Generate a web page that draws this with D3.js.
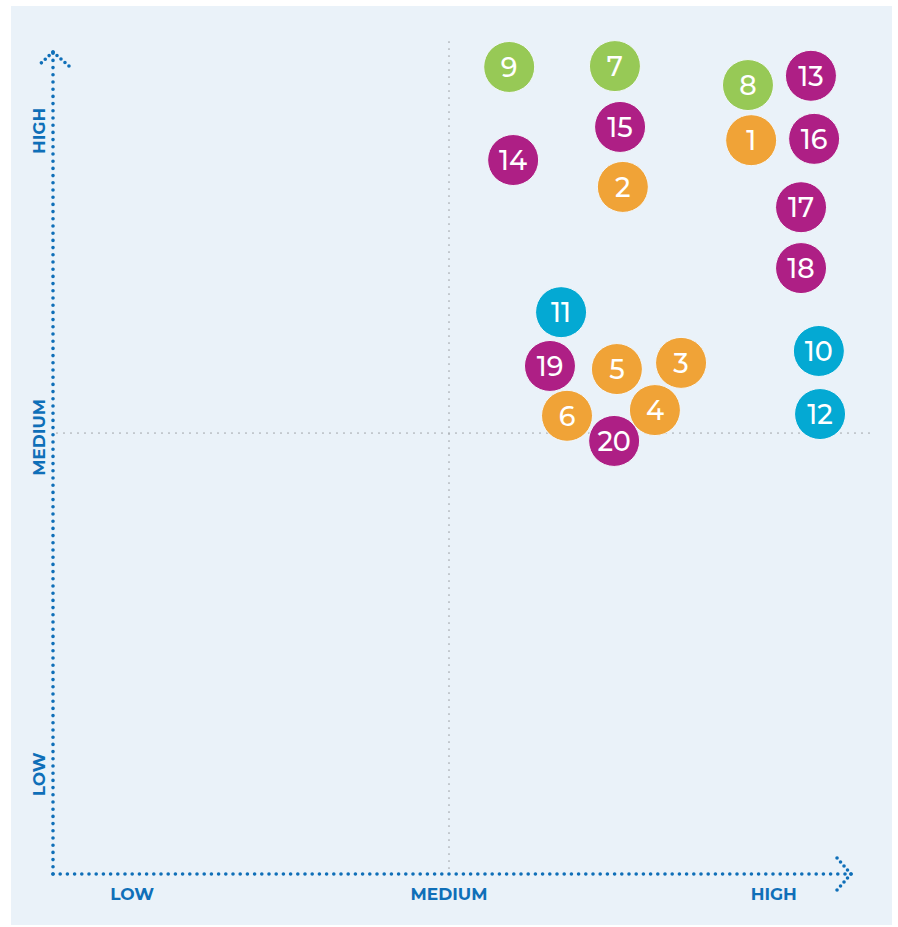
<!DOCTYPE html>
<html>
<head>
<meta charset="utf-8">
<script src="https://d3js.org/d3.v7.min.js"></script>
<style>
  body { margin: 0; background: #ffffff; }
  .lbl { font-family: "Montserrat", "Open Sans", sans-serif; font-weight: 700; font-size: 17px; fill: #0f6fb8; }
  .num { font-family: "Montserrat", "Open Sans", sans-serif; font-weight: 500; font-size: 27px; fill: #ffffff; }
</style>
</head>
<body>
<svg width="898" height="927"></svg>
<script>

// item ids, their group and position (0 = low, 1 = medium, 2 = high)
var ids    = [1, 2, 3, 4, 5, 6, 7, 8, 9, 10, 11, 12, 13, 14, 15, 16, 17, 18, 19, 20];
var groups = ["o","o","o","o","o","o","g","g","g","c","c","c","p","p","p","p","p","p","p","p"];
var xVals  = [1.763, 1.439, 1.586, 1.520, 1.424, 1.298, 1.419, 1.755, 1.152, 1.934,
              1.283, 1.937, 1.914, 1.162, 1.432, 1.922, 1.889, 1.889, 1.255, 1.417];
var yVals  = [1.664, 1.558, 1.159, 1.052, 1.145, 1.039, 1.832, 1.789, 1.830, 1.186,
              1.274, 1.043, 1.810, 1.619, 1.694, 1.667, 1.512, 1.374, 1.152, 0.982];

var xTickLabels = ["LOW", "MEDIUM", "HIGH"];
var xTickVals   = [0.2, 1.0, 1.82];
var yTickLabels = ["LOW", "MEDIUM", "HIGH"];
var yTickVals   = [0.226, 0.99, 1.685];

var colours = d3.scaleOrdinal()
    .domain(["o", "g", "c", "p"])
    .range(["#f0a337", "#97c956", "#04a9d3", "#ae1f85"]);

var svg = d3.select("svg");

svg.append("rect")
   .attr("x", 11).attr("y", 6)
   .attr("width", 881).attr("height", 919)
   .attr("fill", "#eaf2f9");

var x = d3.scaleLinear().domain([0, 2]).range([53, 845]),
    y = d3.scaleLinear().domain([0, 1]).range([874, 433]);

// medium guide lines
svg.append("line")
   .attr("x1", x(1)).attr("x2", x(1))
   .attr("y1", 42).attr("y2", 870)
   .attr("stroke", "#a3a7ab").attr("stroke-width", 1.7)
   .attr("stroke-linecap", "round").attr("stroke-dasharray", "0 7");
svg.append("line")
   .attr("x1", x(0) + 4).attr("x2", 873)
   .attr("y1", y(1)).attr("y2", y(1))
   .attr("stroke", "#a3a7ab").attr("stroke-width", 1.7)
   .attr("stroke-linecap", "round").attr("stroke-dasharray", "0 7");

// dotted axes with arrows
var axisG = svg.append("g")
   .attr("fill", "none")
   .attr("stroke", "#0f6fb8")
   .attr("stroke-width", 3.6)
   .attr("stroke-linecap", "round")
   .attr("stroke-dasharray", "0 7.2");

axisG.append("line").attr("x1", x(0)).attr("y1", y(0)).attr("x2", 851).attr("y2", y(0));
axisG.append("line").attr("x1", x(0)).attr("y1", y(0)).attr("x2", x(0)).attr("y2", 52);
axisG.append("path").attr("d", "M851,874 L837,858").attr("stroke-dasharray", "0 5.3");
axisG.append("path").attr("d", "M851,874 L837,890").attr("stroke-dasharray", "0 5.3");
axisG.append("path").attr("d", "M53,52 L38,66").attr("stroke-dasharray", "0 5.3");
axisG.append("path").attr("d", "M53,52 L69,66").attr("stroke-dasharray", "0 5.3");

// axis labels
svg.selectAll(".xl")
   .data(xTickLabels)
   .enter().append("text")
   .attr("class", "lbl")
   .attr("text-anchor", "middle")
   .attr("x", function(d, i) { return x(xTickVals[i]); })
   .attr("y", 900)
   .text(function(d) { return d; });

svg.selectAll(".yl")
   .data(yTickLabels)
   .enter().append("text")
   .attr("class", "lbl")
   .attr("text-anchor", "middle")
   .attr("transform", function(d, i) { return "translate(45," + y(yTickVals[i]) + ") rotate(-90)"; })
   .text(function(d) { return d; });

// bubbles
var pts = svg.selectAll(".pt")
   .data(ids)
   .enter().append("g")
   .attr("class", "pt")
   .attr("transform", function(d, i) { return "translate(" + x(xVals[i]) + "," + y(yVals[i]) + ")"; });

pts.append("circle")
   .attr("r", 25.5)
   .attr("fill", function(d, i) { return colours(groups[i]); })
   .attr("stroke", "#f2f7fb")
   .attr("stroke-width", 1);

pts.append("text")
   .attr("class", "num")
   .attr("text-anchor", "middle")
   .attr("dy", "0.36em")
   .text(function(d) { return d; });

</script>
</body>
</html>
